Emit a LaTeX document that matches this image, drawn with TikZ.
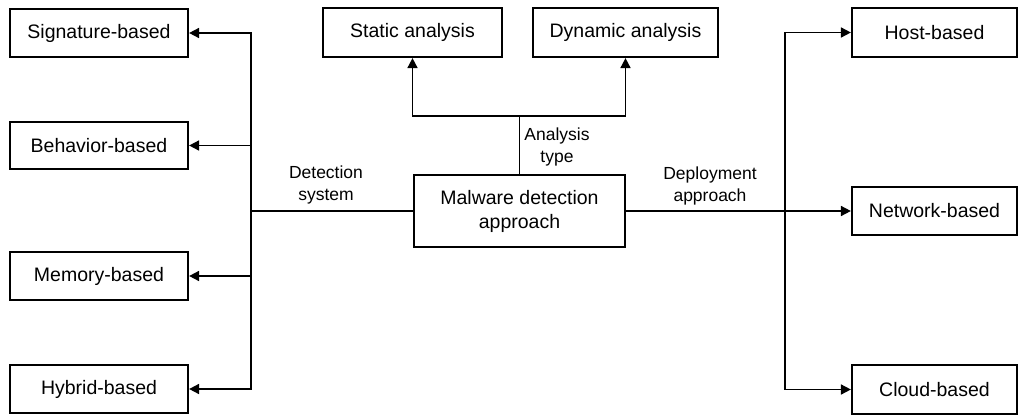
\documentclass[tikz,border=0pt]{standalone}
\usepackage{fontspec}
\setmainfont{Liberation Sans}
\usetikzlibrary{arrows.meta}
\begin{document}
\begin{tikzpicture}[x=1pt,y=-1pt,
  box/.style={draw=black,line width=2.2pt,rectangle,inner sep=0pt,align=center,
    font=\fontsize{19.5}{24}\selectfont},
  lbl/.style={inner sep=0pt,align=center,font=\fontsize{17.5}{22}\selectfont},
  arr/.style={line width=1.7pt,-{Triangle[length=10pt,width=10pt]}},
  ln/.style={line width=1.7pt}]
\useasboundingbox (0,0) rectangle (1018,418);
% left boxes
\node[box,minimum width=178pt,minimum height=48pt] (sig) at (99,33) {Signature-based};
\node[box,minimum width=178pt,minimum height=47pt] (beh) at (99,145.5) {Behavior-based};
\node[box,minimum width=178pt,minimum height=48pt] (mem) at (99,276) {Memory-based};
\node[box,minimum width=178pt,minimum height=48pt] (hyb) at (99,389) {Hybrid-based};
% top boxes
\node[box,minimum width=179pt,minimum height=49pt] (stat) at (412.5,32.5) {Static analysis};
\node[box,minimum width=185pt,minimum height=49pt] (dyn) at (625.5,32.5) {Dynamic analysis};
% main
\node[box,minimum width=211pt,minimum height=72pt] (main) at (519.5,211) {Malware detection\\approach};
% right boxes
\node[box,minimum width=165pt,minimum height=49pt] (host) at (934.5,32.5) {Host-based};
\node[box,minimum width=165pt,minimum height=48pt] (net) at (934.5,211) {Network-based};
\node[box,minimum width=165pt,minimum height=49pt] (cloud) at (934.5,389.5) {Cloud-based};
% bus coordinates
\coordinate (lb) at (251,211);
\coordinate (tb) at (519.5,116);
\coordinate (rb) at (785,211);
% left connectors
\draw[ln] (main.west) -- (lb);
\draw[arr] (lb) |- (sig.east);
\draw[arr] (lb) |- (beh.east);
\draw[arr] (lb) |- (mem.east);
\draw[arr] (lb) |- (hyb.east);
% top connectors
\draw[ln] (main.north) -- (tb);
\draw[arr] (tb) -| (stat.south);
\draw[arr] (tb) -| (dyn.south);
% right connectors
\draw[arr] (main.east) -- (net.west);
\draw[arr] (rb) |- (host.west);
\draw[arr] (rb) |- (cloud.west);
% labels
\node[lbl] (l1) at (326,185) {Detection\\system};
\node[lbl] (l2) at (557,147) {Analysis\\type};
\node[lbl] (l3) at (710,186) {Deployment\\approach};
\end{tikzpicture}
\end{document}
